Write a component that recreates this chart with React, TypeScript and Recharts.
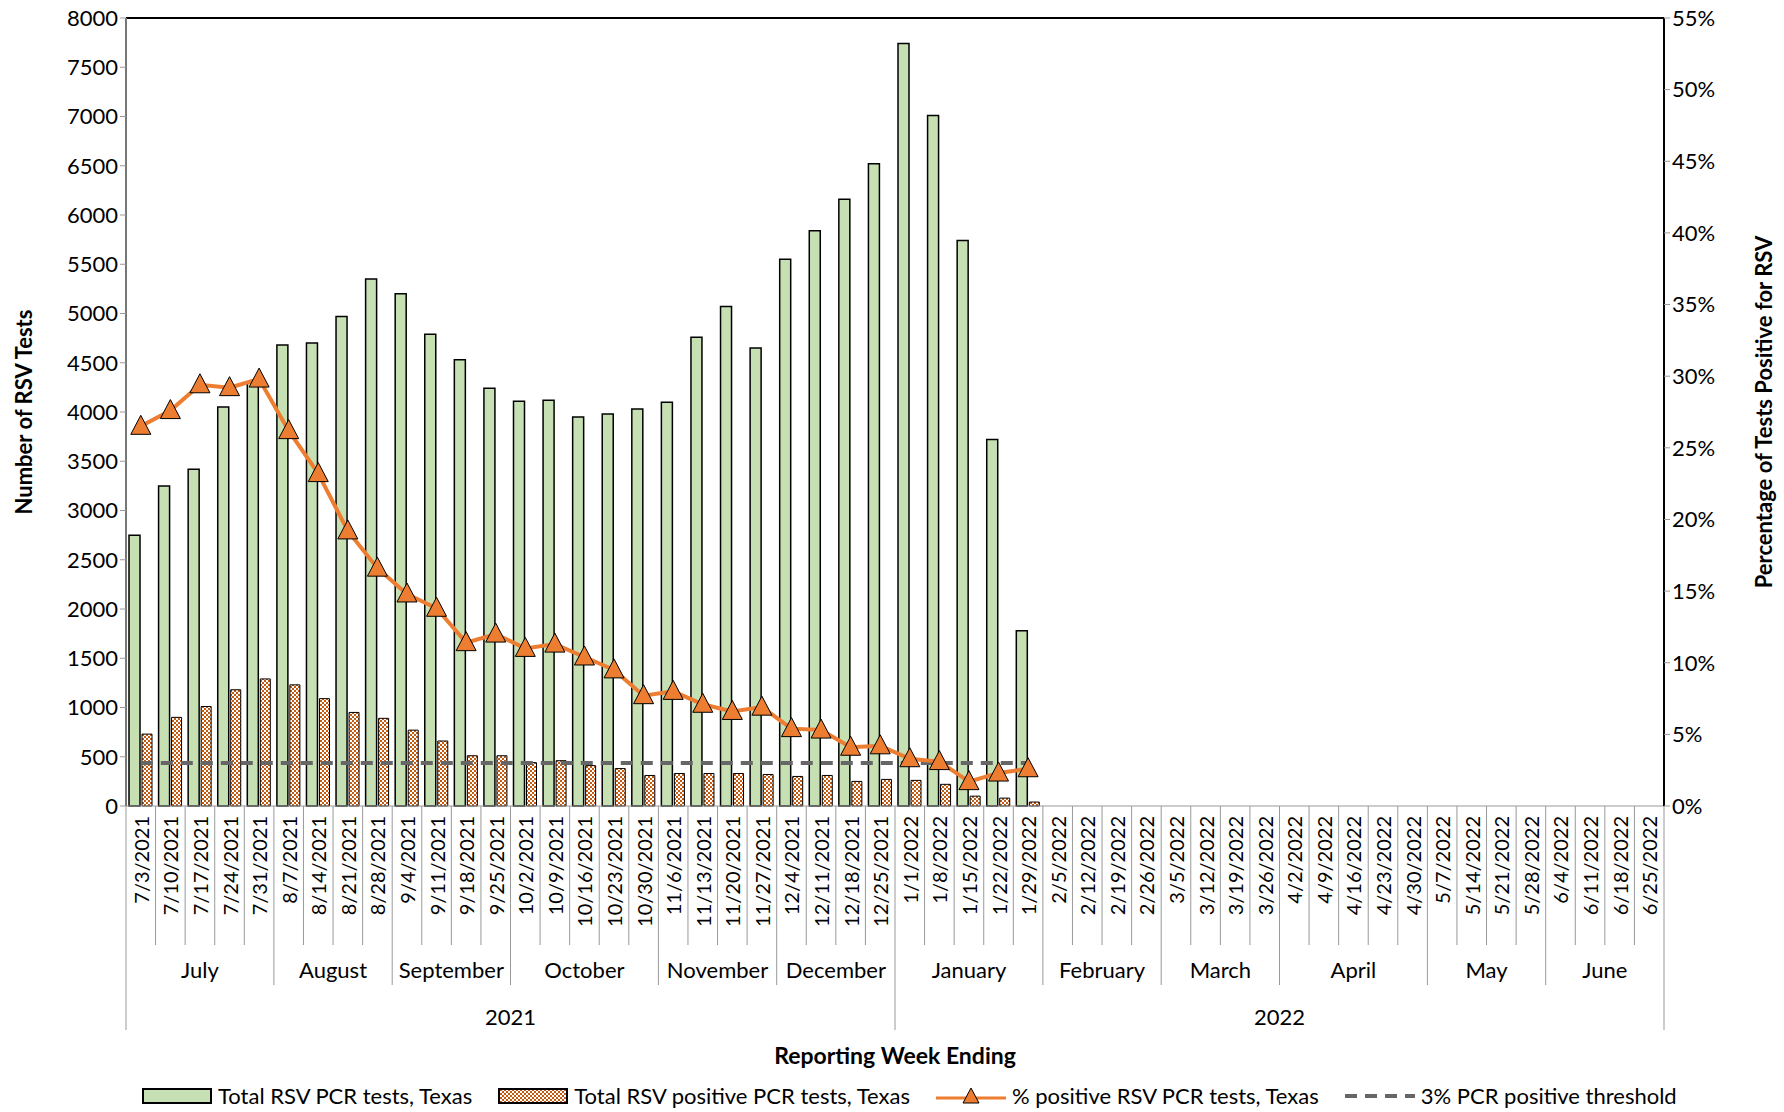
import { ComposedChart, Bar, Line, XAxis, YAxis, ReferenceLine } from 'recharts';

const weeks = [
  '7/3/2021', '7/10/2021', '7/17/2021', '7/24/2021', '7/31/2021', '8/7/2021', '8/14/2021', '8/21/2021', '8/28/2021',
  '9/4/2021', '9/11/2021', '9/18/2021', '9/25/2021', '10/2/2021', '10/9/2021', '10/16/2021', '10/23/2021', '10/30/2021',
  '11/6/2021', '11/13/2021', '11/20/2021', '11/27/2021', '12/4/2021', '12/11/2021', '12/18/2021', '12/25/2021',
  '1/1/2022', '1/8/2022', '1/15/2022', '1/22/2022', '1/29/2022', '2/5/2022', '2/12/2022', '2/19/2022', '2/26/2022',
  '3/5/2022', '3/12/2022', '3/19/2022', '3/26/2022', '4/2/2022', '4/9/2022', '4/16/2022', '4/23/2022', '4/30/2022',
  '5/7/2022', '5/14/2022', '5/21/2022', '5/28/2022', '6/4/2022', '6/11/2022', '6/18/2022', '6/25/2022',
];

const totalTests = [
  2750, 3250, 3420, 4050, 4300, 4680, 4700, 4970, 5350, 5200, 4790, 4530, 4240, 4110, 4120, 3950, 3980, 4030,
  4100, 4760, 5070, 4650, 5550, 5840, 6160, 6520, 7740, 7010, 5740, 3720, 1780,
];

const positiveTests = [
  730, 900, 1010, 1180, 1290, 1230, 1090, 950, 890, 770, 660, 510, 510, 440, 460, 410, 380, 310,
  330, 330, 330, 320, 300, 310, 250, 270, 260, 220, 100, 80, 40,
];

const pctPositive = [
  26.5, 27.6, 29.4, 29.2, 29.8, 26.2, 23.2, 19.2, 16.6, 14.8, 13.8, 11.4, 12.0, 11.0, 11.3, 10.4, 9.5, 7.7,
  8.0, 7.1, 6.6, 6.9, 5.4, 5.3, 4.1, 4.2, 3.3, 3.1, 1.7, 2.3, 2.6,
];

const threshold = 3;

const months = [
  { name: 'July', count: 5 }, { name: 'August', count: 4 }, { name: 'September', count: 4 },
  { name: 'October', count: 5 }, { name: 'November', count: 4 }, { name: 'December', count: 4 },
  { name: 'January', count: 5 }, { name: 'February', count: 4 }, { name: 'March', count: 4 },
  { name: 'April', count: 5 }, { name: 'May', count: 4 }, { name: 'June', count: 4 },
];

const years = [{ name: '2021', count: 26 }, { name: '2022', count: 26 }];

const leftTicks = [0, 500, 1000, 1500, 2000, 2500, 3000, 3500, 4000, 4500, 5000, 5500, 6000, 6500, 7000, 7500, 8000];
const rightTicks = [0, 5, 10, 15, 20, 25, 30, 35, 40, 45, 50, 55];

const data = weeks.map((w, i) => ({
  week: w,
  total: totalTests[i] ?? null,
  positive: positiveTests[i] ?? null,
  pct: pctPositive[i] ?? null,
  threshold: i < totalTests.length ? threshold : null,
}));

const FONT = 'Lato, "Open Sans", sans-serif';
const PLOT_LEFT = 126;
const PLOT_RIGHT = 1664;
const AXIS_Y = 806;
const BW = (PLOT_RIGHT - PLOT_LEFT) / weeks.length;

function groupStarts(groups: { name: string; count: number }[]) {
  const starts: Record<number, { name: string; count: number }> = {};
  let acc = 0;
  groups.forEach((g) => {
    starts[acc] = g;
    acc += g.count;
  });
  return starts;
}

const monthStarts = groupStarts(months);
const yearStarts = groupStarts(years);

const DateTick = (props: any) => {
  const { x, payload, index } = props;
  const left = x - BW / 2;
  const m = monthStarts[index];
  const yr = yearStarts[index];
  return (
    <g>
      <text
        x={0}
        y={0}
        transform={`translate(${x + 8},${AXIS_Y + 10}) rotate(-90)`}
        textAnchor="end"
        fontSize={20}
        fontFamily={FONT}
        fill="#000"
      >
        {payload.value}
      </text>
      <line x1={left} x2={left} y1={AXIS_Y} y2={yr ? 1030 : m ? 985 : 945} stroke="#999" />
      {index === weeks.length - 1 && (
        <line x1={left + BW} x2={left + BW} y1={AXIS_Y} y2={1030} stroke="#999" />
      )}
      {m && (
        <text x={left + (m.count * BW) / 2} y={978} textAnchor="middle" fontSize={22} fontFamily={FONT}>
          {m.name}
        </text>
      )}
      {yr && (
        <text x={left + (yr.count * BW) / 2} y={1025} textAnchor="middle" fontSize={22} fontFamily={FONT}>
          {yr.name}
        </text>
      )}
    </g>
  );
};

const TriangleDot = (props: any) => {
  const { cx, cy, value } = props;
  if (value == null || cx == null) return null;
  return (
    <path
      d={`M${cx},${cy - 11} L${cx + 10},${cy + 8} L${cx - 10},${cy + 8} Z`}
      fill="#ED7D31"
      stroke="#000"
      strokeWidth={1}
    />
  );
};

const legendItems = [
  { label: 'Total RSV PCR tests, Texas', kind: 'green' },
  { label: 'Total RSV positive PCR tests, Texas', kind: 'check' },
  { label: '%  positive RSV PCR tests, Texas', kind: 'line' },
  { label: '3% PCR positive threshold', kind: 'dash' },
];

function LegendSwatch({ kind }: { kind: string }) {
  if (kind === 'green' || kind === 'check') {
    return (
      <svg width={70} height={18}>
        <defs>
          <pattern id="chkL" width="4" height="4" patternUnits="userSpaceOnUse">
            <rect width="4" height="4" fill="#fff" />
            <rect width="2" height="2" fill="#C55A11" />
            <rect x="2" y="2" width="2" height="2" fill="#C55A11" />
          </pattern>
        </defs>
        <rect x={1} y={2} width={68} height={14} fill={kind === 'green' ? '#C6E0B4' : 'url(#chkL)'} stroke="#000" strokeWidth={2} />
      </svg>
    );
  }
  if (kind === 'line') {
    return (
      <svg width={70} height={22}>
        <line x1={0} x2={70} y1={13} y2={13} stroke="#ED7D31" strokeWidth={3} />
        <path d="M35,3 L43,18 L27,18 Z" fill="#ED7D31" stroke="#000" />
      </svg>
    );
  }
  return (
    <svg width={70} height={22}>
      <line x1={0} x2={70} y1={11} y2={11} stroke="#666" strokeWidth={4} strokeDasharray="12 8" />
    </svg>
  );
}

export default function App() {
  return (
    <div style={{ position: 'absolute', left: 0, top: 0, width: 1784, height: 1112, background: '#fff', fontFamily: FONT }}>
      <ComposedChart
        width={1784}
        height={1112}
        data={data}
        margin={{ top: 18, right: 0, left: 0, bottom: 44 }}
        barGap={2}
        barCategoryGap={5}
      >
        <defs>
          <pattern id="chk" width="4" height="4" patternUnits="userSpaceOnUse">
            <rect width="4" height="4" fill="#fff" />
            <rect width="2" height="2" fill="#C55A11" />
            <rect x="2" y="2" width="2" height="2" fill="#C55A11" />
          </pattern>
        </defs>
        <XAxis
          dataKey="week"
          interval={0}
          height={262}
          tick={<DateTick />}
          tickLine={false}
          axisLine={{ stroke: '#999' }}
          label={{ value: 'Reporting Week Ending', position: 'insideBottom', offset: 4, fontSize: 23, fontWeight: 'bold', fill: '#000', fontFamily: FONT }}
        />
        <YAxis
          yAxisId="left"
          width={126}
          domain={[0, 8000]}
          ticks={leftTicks}
          interval={0}
          tick={{ fontSize: 22, fill: '#000', fontFamily: FONT }}
          tickLine={{ stroke: '#999' }}
          tickSize={6}
          axisLine={{ stroke: '#777', strokeWidth: 2 }}
          label={{ value: 'Number of RSV Tests', angle: -90, position: 'insideLeft', offset: 24, fontSize: 22, fontWeight: 'bold', fill: '#000', fontFamily: FONT, style: { textAnchor: 'middle' } }}
        />
        <YAxis
          yAxisId="right"
          orientation="right"
          width={120}
          domain={[0, 55]}
          ticks={rightTicks}
          interval={0}
          tickFormatter={(v: number) => `${v}%`}
          tick={{ fontSize: 22, fill: '#000', fontFamily: FONT }}
          tickLine={{ stroke: '#999' }}
          tickSize={6}
          axisLine={{ stroke: '#000', strokeWidth: 2 }}
          label={{ value: 'Percentage of Tests Positive for RSV', angle: -90, position: 'insideRight', offset: 20, fontSize: 22, fontWeight: 'bold', fill: '#000', fontFamily: FONT, style: { textAnchor: 'middle' } }}
        />
        <ReferenceLine yAxisId="left" y={8000} stroke="#000" strokeWidth={2} />
        <Bar yAxisId="left" dataKey="total" fill="#C6E0B4" stroke="#000" strokeWidth={1.5} barSize={11} isAnimationActive={false} />
        <Bar yAxisId="left" dataKey="positive" fill="url(#chk)" stroke="#000" strokeWidth={1} barSize={10} isAnimationActive={false} />
        <Line yAxisId="right" dataKey="threshold" stroke="#666" strokeWidth={4} strokeDasharray="12 8" dot={false} isAnimationActive={false} />
        <Line yAxisId="right" dataKey="pct" stroke="#ED7D31" strokeWidth={4} dot={<TriangleDot />} activeDot={false} isAnimationActive={false} />
      </ComposedChart>
      <div style={{ position: 'absolute', left: 142, top: 1082, display: 'flex', gap: 26, alignItems: 'center', fontSize: 22 }}>
        {legendItems.map((it) => (
          <div key={it.label} style={{ display: 'flex', alignItems: 'center', gap: 6 }}>
            <LegendSwatch kind={it.kind} />
            <span>{it.label}</span>
          </div>
        ))}
      </div>
    </div>
  );
}
